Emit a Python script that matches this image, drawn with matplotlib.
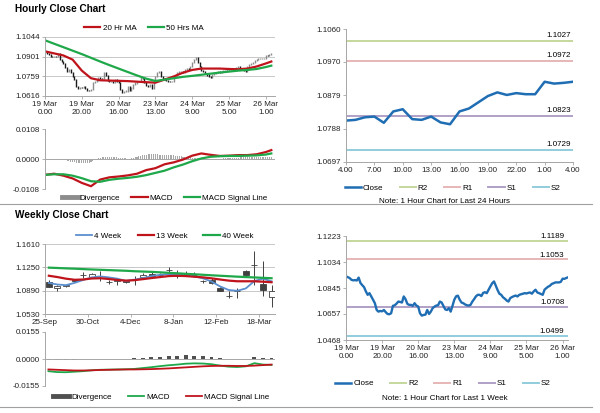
import matplotlib
matplotlib.use("Agg")
import matplotlib.pyplot as plt
from matplotlib.lines import Line2D
import numpy as np

plt.rcParams["font.family"] = ["Liberation Sans", "DejaVu Sans"]

# ---- hourly close, 19 Mar 0.00 .. 26 Mar 4.00 (one value per hour bar)
close_week = [
    1.0930, 1.0924, 1.0918, 1.0905, 1.0901, 1.0903, 1.0900, 1.0921, 1.0882, 1.0866,
    1.0852, 1.0821, 1.0796, 1.0808, 1.0784, 1.0760, 1.0735, 1.0686, 1.0674, 1.0679,
    1.0676, 1.0686, 1.0670, 1.0657, 1.0655, 1.0662, 1.0716, 1.0720, 1.0732, 1.0747,
    1.0744, 1.0740, 1.0784, 1.0764, 1.0730, 1.0723, 1.0723, 1.0716, 1.0735, 1.0718,
    1.0711, 1.0662, 1.0645, 1.0650, 1.0652, 1.0686, 1.0657, 1.0674, 1.0699, 1.0710,
    1.0718, 1.0720, 1.0747, 1.0740, 1.0715, 1.0690, 1.0686, 1.0699, 1.0674, 1.0716,
    1.0760, 1.0785, 1.0790, 1.0760, 1.0740, 1.0735, 1.0726, 1.0720, 1.0718, 1.0723,
    1.0747, 1.0765, 1.0785, 1.0796, 1.0796, 1.0787, 1.0810, 1.0815, 1.0808, 1.0833,
    1.0857, 1.0880, 1.0893, 1.0862, 1.0830, 1.0804, 1.0796, 1.0778, 1.0768, 1.0755,
    1.0747, 1.0772, 1.0780, 1.0786, 1.0791, 1.0784, 1.0796, 1.0800, 1.0804, 1.0808,
    1.0806, 1.0810, 1.0813, 1.0804, 1.0821, 1.0833, 1.0813, 1.0808, 1.0802, 1.0796,
    1.0833, 1.0845, 1.0855, 1.0862, 1.0875, 1.0880, 1.0886, 1.0886, 1.0886, 1.0890,
    1.0913, 1.0912, 1.0918, 1.0923,
]
hour_tick_idx = [0, 20, 40, 60, 80, 100, 120]
hour_tick_labels = ["19 Mar\n0.00", "19 Mar\n20.00", "20 Mar\n16.00", "23 Mar\n13.00",
                    "24 Mar\n9.00", "25 Mar\n5.00", "26 Mar\n1.00"]

# moving averages / MACD sampled every 5 bars
ma_idx = [0, 5, 10, 15, 20, 25, 30, 35, 40, 45, 50, 55, 60, 65, 70, 75, 80, 85,
          90, 95, 100, 105, 110, 115, 120, 123]
ma20 = [1.0940, 1.0925, 1.0910, 1.0880, 1.0800, 1.0745, 1.0730, 1.0728, 1.0726, 1.0724,
        1.0720, 1.0716, 1.0713, 1.0735, 1.0758, 1.0785, 1.0805, 1.0815, 1.0815, 1.0815,
        1.0812, 1.0810, 1.0815, 1.0830, 1.0852, 1.0866]
ma50 = [1.1020, 1.0995, 1.0970, 1.0945, 1.0920, 1.0893, 1.0866, 1.0840, 1.0815, 1.0790,
        1.0765, 1.0742, 1.0725, 1.0735, 1.0745, 1.0755, 1.0762, 1.0770, 1.0778, 1.0786,
        1.0793, 1.0800, 1.0805, 1.0812, 1.0826, 1.0836]
macd_h = [-0.0057, -0.0053, -0.0060, -0.0070, -0.0086, -0.0098, -0.0074, -0.0066, -0.0063,
          -0.0059, -0.0053, -0.0040, -0.0033, -0.0019, -0.0012, -0.0002, 0.0012, 0.0020,
          0.0015, 0.0011, 0.0012, 0.0014, 0.0014, 0.0017, 0.0025, 0.0032]
signal_h = [-0.0057, -0.0055, -0.0055, -0.0060, -0.0069, -0.0080, -0.0082, -0.0075, -0.0071,
            -0.0068, -0.0064, -0.0058, -0.0050, -0.0042, -0.0030, -0.0020, -0.0008, 0.0002,
            0.0008, 0.0010, 0.0011, 0.0011, 0.0012, 0.0013, 0.0016, 0.0020]
diverg_h = [
    0.0000, 0.0000, 0.0001, 0.0001, 0.0001, 0.0000, 0.0000, -0.0001, -0.0002, -0.0003,
    -0.0004, -0.0005, -0.0006, -0.0008, -0.0009, -0.0010, -0.0012, -0.0013, -0.0014, -0.0015,
    -0.0016, -0.0016, -0.0016, -0.0015, -0.0013, -0.0011, -0.0008, -0.0005, -0.0002, 0.0002,
    0.0004, 0.0006, 0.0007, 0.0008, 0.0009, 0.0009, 0.0009, 0.0008, 0.0007, 0.0006,
    0.0005, 0.0004, 0.0003, 0.0002, 0.0002, 0.0001, 0.0001, 0.0002, 0.0004, 0.0006,
    0.0008, 0.0010, 0.0012, 0.0014, 0.0015, 0.0016, 0.0017, 0.0017, 0.0018, 0.0018,
    0.0017, 0.0017, 0.0016, 0.0016, 0.0015, 0.0015, 0.0015, 0.0014, 0.0014, 0.0013,
    0.0013, 0.0012, 0.0012, 0.0011, 0.0010, 0.0009, 0.0008, 0.0008, 0.0007, 0.0006,
    0.0005, 0.0004, 0.0003, 0.0002, 0.0001, 0.0000, -0.0001, -0.0001, -0.0002, -0.0002,
    -0.0002, -0.0001, -0.0001, 0.0000, 0.0000, 0.0001, 0.0001, 0.0002, 0.0002, 0.0003,
    0.0003, 0.0004, 0.0004, 0.0005, 0.0005, 0.0005, 0.0006, 0.0006, 0.0006, 0.0007,
    0.0007, 0.0007, 0.0007, 0.0008, 0.0008, 0.0008, 0.0008, 0.0008, 0.0008, 0.0008,
    0.0008, 0.0008, 0.0009, 0.0009,
]

# ---- last 24 hours
close_24h = [1.0810, 1.0812, 1.0819, 1.0821, 1.0804, 1.0835, 1.0841, 1.0814, 1.0812, 1.0821,
             1.0805, 1.0800, 1.0835, 1.0843, 1.0860, 1.0877, 1.0887, 1.0880, 1.0885, 1.0882,
             1.0882, 1.0916, 1.0911, 1.0913, 1.0916]
day_tick_labels = ["4.00", "7.00", "10.00", "13.00", "16.00", "19.00", "22.00", "1.00", "4.00"]
levels_24h = {"R2": 1.1027, "R1": 1.0972, "S1": 1.0823, "S2": 1.0729}
levels_week = {"R2": 1.1189, "R1": 1.1053, "S1": 1.0708, "S2": 1.0499}

# ---- weekly candles, 25-Sep .. 25-Mar
wk_open = [1.1019, 1.0931, 1.0966, 1.1060, 1.1125, 1.1106, 1.1084, 1.1021, 1.1043, 1.1045,
           1.1073, 1.1101, 1.1147, 1.1125, 1.1202, 1.1163, 1.1150, 1.1139, 1.1036, 1.1055,
           1.0931, 1.0805, 1.0892, 1.1189, 1.1279, 1.0993, 1.0787]
wk_high = [1.1060, 1.0983, 1.0978, 1.1070, 1.1178, 1.1168, 1.1189, 1.1060, 1.1086, 1.1060,
           1.1111, 1.1163, 1.1189, 1.1163, 1.1250, 1.1215, 1.1189, 1.1173, 1.1060, 1.1086,
           1.0942, 1.0880, 1.0931, 1.1215, 1.1497, 1.1343, 1.0983]
wk_low = [1.0942, 1.0890, 1.0952, 1.1029, 1.1086, 1.1096, 1.1034, 1.0998, 1.0983, 1.1010,
          1.0983, 1.1090, 1.1101, 1.1106, 1.1137, 1.1086, 1.1122, 1.1111, 1.1008, 1.0998,
          1.0880, 1.0777, 1.0777, 1.1111, 1.0983, 1.0803, 1.0633]
wk_close = [1.0952, 1.0962, 1.0970, 1.1034, 1.1129, 1.1147, 1.1088, 1.1017, 1.1047, 1.1019,
            1.1077, 1.1137, 1.1111, 1.1129, 1.1206, 1.1111, 1.1154, 1.1135, 1.1032, 1.1014,
            1.0890, 1.0801, 1.0888, 1.1137, 1.1283, 1.0906, 1.0890]
ma4w = [1.1010, 1.0985, 1.0975, 1.1010, 1.1055, 1.1095, 1.1110, 1.1095, 1.1075, 1.1040,
        1.1060, 1.1085, 1.1115, 1.1135, 1.1145, 1.1140, 1.1128, 1.1110, 1.1080, 1.1030,
        1.0955, 1.0900, 1.0888, 1.0925, 1.1040, 1.1075, 1.1035]
ma13w = [1.1120, 1.1100, 1.1075, 1.1058, 1.1062, 1.1078, 1.1082, 1.1070, 1.1055, 1.1045,
         1.1052, 1.1068, 1.1085, 1.1100, 1.1115, 1.1120, 1.1115, 1.1105, 1.1095, 1.1080,
         1.1062, 1.1045, 1.1035, 1.1035, 1.1035, 1.1028, 1.1020]
ma40w = [1.1245, 1.1240, 1.1234, 1.1229, 1.1223, 1.1217, 1.1212, 1.1207, 1.1202, 1.1197,
         1.1190, 1.1185, 1.1180, 1.1173, 1.1165, 1.1158, 1.1150, 1.1143, 1.1135, 1.1127,
         1.1120, 1.1113, 1.1106, 1.1100, 1.1094, 1.1088, 1.1082]
macd_w = [-0.0070, -0.0075, -0.0076, -0.0073, -0.0070, -0.0065, -0.0062, -0.0061, -0.0060,
          -0.0059, -0.0057, -0.0052, -0.0047, -0.0041, -0.0036, -0.0032, -0.0027, -0.0025,
          -0.0026, -0.0030, -0.0038, -0.0044, -0.0046, -0.0042, -0.0024, -0.0032, -0.0034]
signal_w = [-0.0060, -0.0062, -0.0064, -0.0066, -0.0066, -0.0065, -0.0063, -0.0062, -0.0061,
            -0.0060, -0.0060, -0.0059, -0.0058, -0.0056, -0.0054, -0.0051, -0.0048, -0.0045,
            -0.0042, -0.0040, -0.0039, -0.0039, -0.0040, -0.0040, -0.0038, -0.0035, -0.0032]
diverg_w = [-0.0006, -0.0006, -0.0005, -0.0004, -0.0002, -0.0001, -0.0001, 0.0000, 0.0001,
            0.0002, 0.0003, 0.0006, 0.0009, 0.0014, 0.0018, 0.0019, 0.0022, 0.0019, 0.0016,
            0.0010, 0.0005, 0.0001, -0.0001, 0.0002, 0.0010, 0.0008, 0.0006]
week_tick_idx = [0, 5, 10, 15, 20, 25]
week_tick_labels = ["25-Sep", "30-Oct", "4-Dec", "8-Jan", "12-Feb", "18-Mar"]

RED = "#c0141c"
GREEN = "#1fa84a"
BLUE = "#1f6db3"
LIGHTBLUE = "#5b8fd0"
AXC = "#a6a6a6"
GRIDC = "#c8c8c8"
LEVEL_COLORS = {"R2": "#c4d79b", "R1": "#e6b8b7", "S1": "#b1a0c7", "S2": "#92cddc"}
FS = 5.8

fig = plt.figure(figsize=(6, 4.13), dpi=100)


def px_axes(x0, y0, x1, y1):
    return fig.add_axes([x0 / 600, 1 - y1 / 413, (x1 - x0) / 600, (y1 - y0) / 413])


def style(ax, yticks, ylabels, grid=False, bottom=True):
    ax.set_yticks(yticks)
    ax.set_yticklabels(ylabels)
    ax.spines["top"].set_visible(False)
    ax.spines["right"].set_visible(False)
    ax.spines["left"].set_color(AXC)
    ax.spines["left"].set_linewidth(0.7)
    ax.spines["bottom"].set_color(AXC)
    ax.spines["bottom"].set_linewidth(0.7)
    ax.spines["bottom"].set_visible(bottom)
    ax.tick_params(labelsize=FS, length=2, width=0.6, color=AXC, pad=1.5, labelcolor="#222222")
    if grid:
        ax.yaxis.grid(True, color=GRIDC, linewidth=0.7)
        ax.set_axisbelow(True)


def legend(ax, handles, labels, x, y, spacing=1.4):
    ax.legend(handles, labels, loc="center", bbox_to_anchor=(x, y), ncol=len(labels),
              frameon=False, fontsize=FS, handlelength=2.0, handletextpad=0.25,
              columnspacing=spacing, borderaxespad=0, borderpad=0)


def line(color, lw=1.6):
    return Line2D([], [], color=color, lw=lw)


# titles and separators
fig.text(15 / 600, 1 - 9 / 413, "Hourly Close Chart", fontsize=7.2, fontweight="bold", va="center")
fig.text(15 / 600, 1 - 215 / 413, "Weekly Close Chart", fontsize=7.2, fontweight="bold", va="center")
fig.add_artist(Line2D([0, 592 / 600], [1 - 204 / 413] * 2, color="#a0a0a0", lw=0.8))
fig.add_artist(Line2D([0, 592 / 600], [1 - 407 / 413] * 2, color="#a0a0a0", lw=0.8))

# ---- hourly price with MAs
ax = px_axes(45, 37, 275, 96)
c = np.array(close_week)
o = np.r_[c[0], c[:-1]]
idx = np.arange(len(c))
up = c >= o
lo = np.minimum(o, c) - 0.0004
hi = np.maximum(o, c) + 0.0004
ax.vlines(idx[up], lo[up], hi[up], color="#8c8c8c", lw=1.0)
ax.vlines(idx[~up], lo[~up], hi[~up], color="#1a1a1a", lw=1.0)
ax.plot(ma_idx, ma20, color=RED, lw=1.6)
ax.plot(ma_idx, ma50, color=GREEN, lw=1.6)
ax.set_xlim(0, 125)
ax.set_ylim(1.0616, 1.1044)
style(ax, [1.0616, 1.0759, 1.0901, 1.1044], ["1.0616", "1.0759", "1.0901", "1.1044"], grid=True)
ax.set_xticks(hour_tick_idx)
ax.set_xticklabels(hour_tick_labels, linespacing=1.3)
legend(ax, [line(RED), line(GREEN)], ["20 Hr MA", "50 Hrs MA"], 0.43, 1.15)

# ---- hourly MACD
ax = px_axes(45, 129, 275, 189)
ax.bar(np.arange(len(diverg_h)), diverg_h, width=0.55, color="#a8a8a8")
ax.axhline(0, color=AXC, lw=0.7)
ax.plot(ma_idx, macd_h, color=RED, lw=1.6)
ax.plot(ma_idx, signal_h, color=GREEN, lw=1.6)
ax.set_xlim(0, 125)
ax.set_ylim(-0.0108, 0.0108)
style(ax, [-0.0108, 0.0, 0.0108], ["-0.0108", "0.0000", "0.0108"], bottom=False)
ax.set_xticks([])
legend(ax, [Line2D([], [], color="#8c8c8c", lw=3.5), line(RED), line(GREEN)],
       ["Divergence", "MACD", "MACD Signal Line"], 0.52, -0.15)

# ---- last 24 hours with pivots
ax = px_axes(346, 29, 573, 162)
for name, val in levels_24h.items():
    ax.axhline(val, color=LEVEL_COLORS[name], lw=1.4)
    ax.text(23.8, val + 0.0005, f"{val:.4f}", ha="right", va="bottom", fontsize=FS)
ax.plot(np.arange(len(close_24h)), close_24h, color=BLUE, lw=1.8)
ax.set_xlim(0, 24)
ax.set_ylim(1.0697, 1.1060)
style(ax, [1.0697, 1.0788, 1.0879, 1.0970, 1.1060],
      ["1.0697", "1.0788", "1.0879", "1.0970", "1.1060"])
ax.set_xticks(np.arange(0, 25, 3))
ax.set_xticklabels(day_tick_labels)
legend(ax, [line(BLUE, 1.8)] + [line(LEVEL_COLORS[k], 1.4) for k in levels_24h],
       ["Close"] + list(levels_24h), 0.47, -0.195, spacing=2.0)
ax.text(0.436, -0.30, "Note: 1 Hour Chart for Last 24 Hours", transform=ax.transAxes,
        ha="center", va="center", fontsize=FS)

# ---- weekly candles with MAs
ax = px_axes(45, 244, 275, 314)
wi = np.arange(len(wk_close))
wo, wc = np.array(wk_open), np.array(wk_close)
ax.vlines(wi, wk_low, wk_high, color="#404040", lw=0.7, zorder=2)
body_lo = np.minimum(wo, wc)
body_h = np.maximum(np.abs(wc - wo), 0.0004)
fill = np.where(wc < wo, "#404040", "white")
ax.bar(wi, body_h, bottom=body_lo, width=0.7, color=fill, edgecolor="#404040", lw=0.6, zorder=3)
ax.plot(wi, ma4w, color=LIGHTBLUE, lw=1.3, zorder=4)
ax.plot(wi, ma13w, color=RED, lw=1.6, zorder=4)
ax.plot(wi, ma40w, color=GREEN, lw=1.6, zorder=4)
ax.set_xlim(-0.4, 26.4)
ax.set_ylim(1.0530, 1.1610)
style(ax, [1.0530, 1.0890, 1.1250, 1.1610], ["1.0530", "1.0890", "1.1250", "1.1610"], grid=True)
ax.set_xticks([i - 0.45 for i in week_tick_idx])
ax.set_xticklabels(week_tick_labels)
legend(ax, [line(LIGHTBLUE, 1.3), line(RED), line(GREEN)], ["4 Week", "13 Week", "40 Week"],
       0.52, 1.115, spacing=2.0)

# ---- weekly MACD
ax = px_axes(45, 332, 275, 386)
ax.bar(wi, diverg_w, width=0.45, color="#505050")
ax.axhline(0, color=AXC, lw=0.7)
ax.plot(wi, macd_w, color=GREEN, lw=1.3)
ax.plot(wi, signal_w, color=RED, lw=1.3)
ax.set_xlim(-0.4, 26.4)
ax.set_ylim(-0.0155, 0.0155)
style(ax, [-0.0155, 0.0, 0.0155], ["-0.0155", "0.0000", "0.0155"], bottom=False)
ax.set_xticks([])
legend(ax, [Line2D([], [], color="#505050", lw=3.5), line(GREEN, 1.3), line(RED, 1.3)],
       ["Divergence", "MACD", "MACD Signal Line"], 0.505, -0.2, spacing=2.0)

# ---- last week hourly close with pivots
ax = px_axes(346, 236, 568, 340)
for name, val in levels_week.items():
    ax.axhline(val, color=LEVEL_COLORS[name], lw=1.4)
    ax.text(121, val + 0.0006, f"{val:.4f}", ha="right", va="bottom", fontsize=FS)
ax.plot(idx, close_week, color=BLUE, lw=1.7)
ax.set_xlim(0, 123)
ax.set_ylim(1.0468, 1.1223)
style(ax, [1.0468, 1.0657, 1.0845, 1.1034, 1.1223],
      ["1.0468", "1.0657", "1.0845", "1.1034", "1.1223"])
ax.set_xticks(hour_tick_idx)
ax.set_xticklabels(hour_tick_labels, linespacing=1.3)
legend(ax, [line(BLUE, 1.8)] + [line(LEVEL_COLORS[k], 1.4) for k in levels_week],
       ["Close"] + list(levels_week), 0.437, -0.42, spacing=2.0)
ax.text(0.446, -0.567, "Note: 1 Hour Chart for Last 1 Week", transform=ax.transAxes,
        ha="center", va="center", fontsize=FS)

fig.savefig("out.png", dpi=100)
